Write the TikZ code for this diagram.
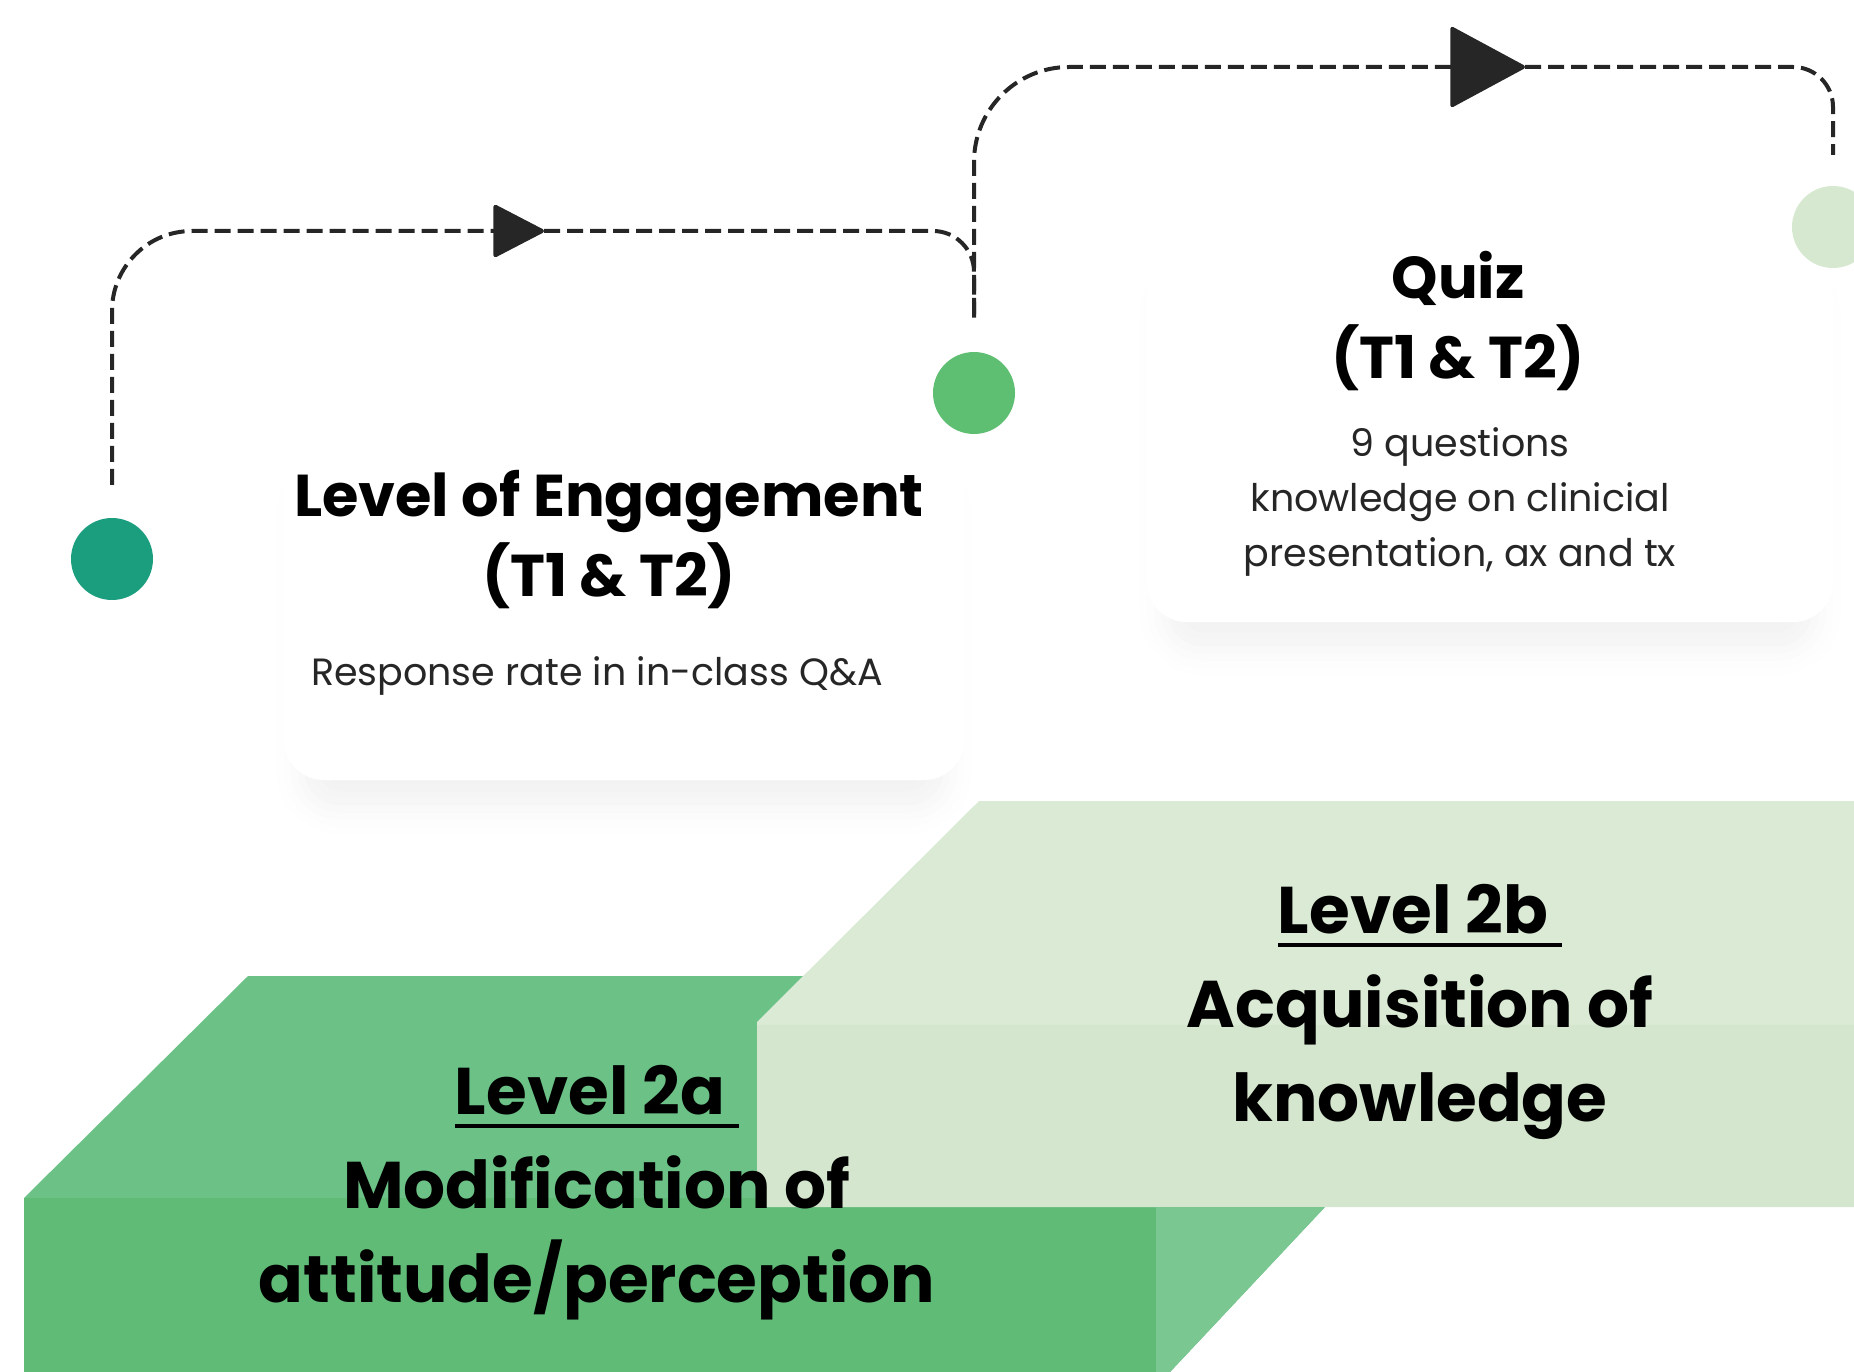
\documentclass[tikz,border=0pt]{standalone}
\usepackage{fontspec}
\setmainfont{Poppins}
\usetikzlibrary{arrows.meta,shadows.blur}
\definecolor{dotteal}{HTML}{1B9E7E}
\definecolor{dotgreen}{HTML}{5EBE72}
\definecolor{dotpale}{HTML}{D6E9D0}
\definecolor{greentop}{HTML}{6CC286}
\definecolor{greenfront}{HTML}{60BB77}
\definecolor{greenside}{HTML}{7AC792}
\definecolor{paletop}{HTML}{DAEAD4}
\definecolor{palefront}{HTML}{D4E6CD}
\newcommand{\lvlline}[1]{\setbox0\hbox{#1}\rlap{\rule[-13pt]{\wd0}{4pt}}\box0}
\begin{document}
\begin{tikzpicture}[x=1pt,y=-1pt,
    flow/.style={line width=4pt,dash pattern=on 16pt off 7pt,black!85},
    dot/.style={circle,inner sep=0pt,minimum size=82pt},
    card/.style={fill=white,rounded corners=40pt,blur shadow={shadow xshift=0pt,shadow yshift=-40pt,shadow scale=0.95,shadow opacity=5,shadow blur radius=26pt}},
    head/.style={align=center,font=\fontsize{59}{80}\selectfont\bfseries},
    small/.style={align=center,font=\fontsize{38}{55}\selectfont,black!85},
    lvl/.style={align=center,font=\fontsize{66}{94}\selectfont\bfseries}]
  \useasboundingbox(0,0)rectangle(1854,1372);
  \clip(0,0)rectangle(1854,1372);
  % cards
  \fill[card](284,430)rectangle(964,780);
  \fill[card](1147,230)rectangle(1833,622);
  % dots
  \node[dot,fill=dotteal](dotone)at(112,559){};
  \node[dot,fill=dotgreen](dottwo)at(974,393){};
  \node[dot,fill=dotpale](dotthree)at(1833,227){};
  % dashed paths
  \coordinate(tipa)at(544,231);
  \coordinate(tipb)at(1525,67);
  \draw[flow,shorten <=33pt,rounded corners=80pt,-{Triangle[length=53pt,width=54pt,round]}](dotone.north)|-(tipa);
  \draw[flow,shorten >=32pt,rounded corners=41pt](tipa)-|(dottwo.north);
  \draw[flow,shorten <=38pt,rounded corners=95pt,-{Triangle[length=77pt,width=82pt,round]}](dottwo.north)|-(tipb);
  \draw[flow,shorten >=31pt,rounded corners=40pt](tipb)-|(dotthree.north);
  % texts
  \node[head](engtitle)at(609,540){Level of Engagement\\(T1 \& T2)};
  \node[small](engtext)at(597,676){Response rate in in-class Q\&A};
  \node[head](quiztitle)at(1458,321){Quiz\\(T1 \& T2)};
  \node[small](quiztext)at(1460,502){9 questions\\knowledge on clinicial\\presentation, ax and tx};
  % steps
  \fill[greentop](248,976)--(1542,976)--(1170,1372)--(24,1372)--(24,1198)--cycle;
  \fill[greenside](1156,1208)--(1324,1208)--(1170,1372)--(1156,1372)--cycle;
  \fill[greenfront](24,1198)rectangle(1156,1372);
  \fill[paletop](979,801)--(1854,801)--(1854,1207)--(757,1207)--(757,1022)--cycle;
  \fill[palefront](757,1025)rectangle(1854,1207);
  \node[lvl](lvltwob)at(1420,1012){\lvlline{Level 2b~}\\Acquisition of\\knowledge};
  \node[lvl](lvltwoa)at(597,1193){\lvlline{Level 2a~}\\Modification of\\attitude/perception};
\end{tikzpicture}
\end{document}
